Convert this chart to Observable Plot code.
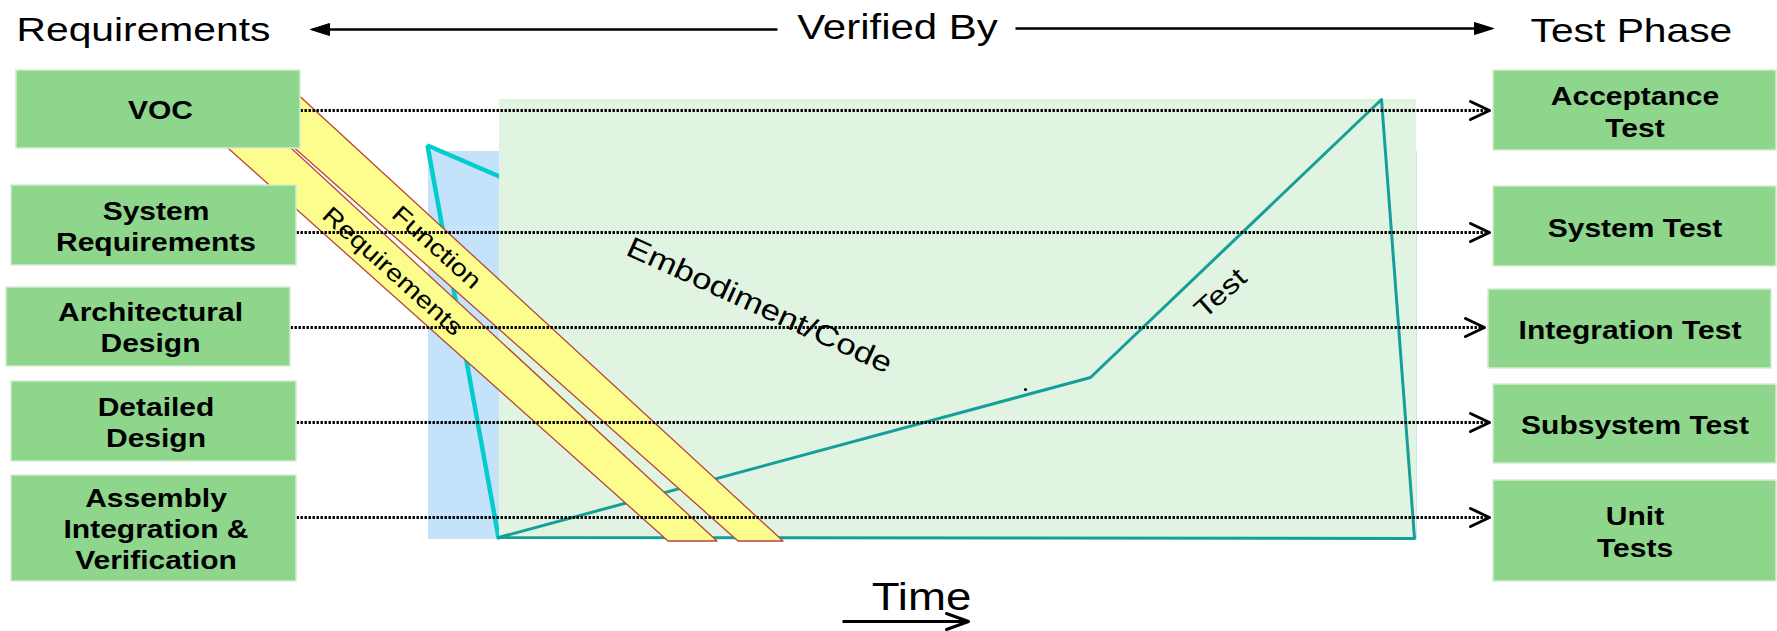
<!DOCTYPE html>
<html><head><meta charset="utf-8">
<script src="https://cdn.jsdelivr.net/npm/d3@7"></script>
<script src="https://cdn.jsdelivr.net/npm/@observablehq/plot@0.6"></script>
<style>html,body{margin:0;padding:0;background:#fff;overflow:hidden}</style>
</head><body><div id="chart"></div>
<script>
// ---- Requirements (left) boxes ----
const leftLabels = ["VOC", "System\nRequirements", "Architectural\nDesign", "Detailed\nDesign", "Assembly\nIntegration &\nVerification"];
const leftX1 = [16, 11, 6, 11, 11];
const leftX2 = [300, 296, 290, 296, 296];
const leftTop = [70, 185, 287, 381, 475];
const leftBottom = [148, 265, 366, 461, 581];
// ---- Test phase (right) boxes ----
const rightLabels = ["Acceptance\nTest", "System Test", "Integration Test", "Subsystem Test", "Unit\nTests"];
const rightX1 = [1493, 1493, 1488, 1493, 1493];
const rightX2 = [1776, 1776, 1771, 1776, 1776];
const rightTop = [70, 186, 289, 384, 480];
const rightBottom = [150, 266, 368, 463, 581];
// ---- dotted "verified by" links ----
const linkY = [110, 232, 327, 422, 517];
const linkTipX = [1489, 1489, 1484, 1489, 1489];
// ---- background regions ----
const blueRegion = {x1: 428, x2: 1417, y1: 151, y2: 539};
const greenRegion = {x1: 499, x2: 1416, y1: 99, y2: 538};
// ---- V outline (cyan, behind green) and teal (over green) ----
const cyanX = [499, 427, 498];
const cyanY = [176, 145, 537];
const tealX = [498, 1090, 1381, 1414, 498];
const tealY = [537, 377, 99, 538, 537];
// ---- yellow bands ----
const bandNames = ["Requirements", "Function"];
const bandTopY = [90, 90];
const bandBottomY = [541, 541];
const bandTopLeft = [163, 229];
const bandTopRight = [228, 293];
const bandBottomLeft = [668, 738];
const bandBottomRight = [717, 783];
// ---- annotations ----
const notes = [
  {text: "Function", x: 436, y: 247, angle: 42, size: 24},
  {text: "Requirements", x: 392, y: 271, angle: 42, size: 24},
  {text: "Embodiment/Code", x: 759, y: 305, angle: 24.5, size: 29},
  {text: "Test", x: 1220, y: 293, angle: -42, size: 27}
];
const strayDot = [{x: 1025, y: 389}];
// ---- header ----
const headerLeft = {t: "Requirements", x: 16, y: 30};
const headerMid = {t: "Verified By", x: 897, y: 27};
const headerRight = {t: "Test Phase", x: 1530, y: 31};
const headerLineX1 = [318, 1015];
const headerLineX2 = [777, 1478];
const headerLineY = [29, 28];
const headerHeadTip = [310, 1493];
const headerHeadBase = [329, 1474];
// ---- time axis ----
const timeLabel = "Time";
const timeX = [921], timeY = [597];
const timeArrowX = [842, 968], timeArrowY = 621;

const W = 1777, H = 631;
const leftBoxes = leftLabels.map((l, i) => ({label: l, x1: leftX1[i], x2: leftX2[i], y1: leftTop[i], y2: leftBottom[i], cx: (leftX1[i] + leftX2[i]) / 2 + 2, cy: (leftTop[i] + leftBottom[i]) / 2}));
const rightBoxes = rightLabels.map((l, i) => ({label: l, x1: rightX1[i], x2: rightX2[i], y1: rightTop[i], y2: rightBottom[i], cx: (rightX1[i] + rightX2[i]) / 2, cy: (rightTop[i] + rightBottom[i]) / 2}));
const links = linkY.map((y, i) => ({x1: leftX2[i], x2: linkTipX[i], y}));
const chevrons = linkY.flatMap((y, i) => [
  {id: i, x: linkTipX[i] - 19, y: y - 9}, {id: i, x: linkTipX[i], y}, {id: i, x: linkTipX[i] - 19, y: y + 9}
]);
const cyanPath = cyanX.map((x, i) => ({x, y: cyanY[i]}));
const tealPath = tealX.map((x, i) => ({x, y: tealY[i]}));
const bands = bandNames.flatMap((n, i) => [
  {band: n, y: bandTopY[i], x1: bandTopLeft[i], x2: bandTopRight[i]},
  {band: n, y: bandBottomY[i], x1: bandBottomLeft[i], x2: bandBottomRight[i]}
]);
const headerLines = headerLineX1.map((x1, i) => ({x1, x2: headerLineX2[i], y: headerLineY[i]}));
const headerHeads = headerHeadTip.flatMap((tip, i) => [
  {id: i, x: tip, y: headerLineY[i]}, {id: i, x: headerHeadBase[i], y: headerLineY[i] - 6}, {id: i, x: headerHeadBase[i], y: headerLineY[i] + 6}, {id: i, x: tip, y: headerLineY[i]}
]);
const timeHead = [{x: timeArrowX[1] - 22, y: timeArrowY - 8}, {x: timeArrowX[1], y: timeArrowY}, {x: timeArrowX[1] - 22, y: timeArrowY + 8}];

const font = "'Liberation Sans', Arial, Helvetica, sans-serif";
const chart = Plot.plot({
  width: W, height: H, margin: 0,
  x: {domain: [0, W], axis: null},
  y: {domain: [H, 0], axis: null},
  style: {fontFamily: font, background: "#fff", overflow: "visible"},
  marks: [
    Plot.rect([blueRegion], {x1: "x1", x2: "x2", y1: "y1", y2: "y2", fill: "#c5e2fb"}),
    Plot.line(cyanPath, {x: "x", y: "y", stroke: "#00cdcc", strokeWidth: 4.5, strokeLinejoin: "miter"}),
    Plot.rect([greenRegion], {x1: "x1", x2: "x2", y1: "y1", y2: "y2", fill: "#e1f4e1"}),
    Plot.line(tealPath, {x: "x", y: "y", stroke: "#169e9a", strokeWidth: 3}),
    Plot.areaX(bands, {y: "y", x1: "x1", x2: "x2", z: "band", fill: "#fdfd8d", stroke: "#b8453a", strokeWidth: 1.3}),
    Plot.text(notes, {x: "x", y: "y", text: "text", rotate: "angle", fontSize: (d) => d.size, lineAnchor: "middle", fill: "black"}),
    Plot.dot(strayDot, {x: "x", y: "y", r: 1.6, fill: "black"}),
    Plot.link(links, {x1: "x1", x2: "x2", y1: "y", y2: "y", stroke: "black", strokeWidth: 2.9, strokeDasharray: "2.4,1.6"}),
    Plot.line(chevrons, {x: "x", y: "y", z: "id", stroke: "black", strokeWidth: 3}),
    Plot.rect(leftBoxes, {x1: "x1", x2: "x2", y1: "y1", y2: "y2", fill: "#8ed68c", stroke: "#d6ebd4", strokeWidth: 1.5}),
    Plot.rect(rightBoxes, {x1: "x1", x2: "x2", y1: "y1", y2: "y2", fill: "#8ed68c", stroke: "#d6ebd4", strokeWidth: 1.5}),
    Plot.text(leftBoxes, {x: "cx", y: "cy", text: "label", fontWeight: "bold", fontSize: 25, lineHeight: 1.24, lineAnchor: "middle", fill: "black"}),
    Plot.text(rightBoxes, {x: "cx", y: "cy", text: "label", fontWeight: "bold", fontSize: 25, lineHeight: 1.28, lineAnchor: "middle", fill: "black"}),
    Plot.text([headerLeft, headerRight], {x: "x", y: "y", text: "t", textAnchor: "start", fontSize: 34, lineAnchor: "middle", fill: "black"}),
    Plot.text([headerMid], {x: "x", y: "y", text: "t", textAnchor: "middle", fontSize: 35, lineAnchor: "middle", fill: "black"}),
    Plot.link(headerLines, {x1: "x1", x2: "x2", y1: "y", y2: "y", stroke: "black", strokeWidth: 2.5}),
    Plot.line(headerHeads, {x: "x", y: "y", z: "id", fill: "black", stroke: "black", strokeWidth: 1}),
    Plot.text([{t: timeLabel, x: timeX[0], y: timeY[0]}], {x: "x", y: "y", text: "t", fontSize: 38, lineAnchor: "middle", fill: "black"}),
    Plot.link([{x1: timeArrowX[0], x2: timeArrowX[1], y: timeArrowY}], {x1: "x1", x2: "x2", y1: "y", y2: "y", stroke: "black", strokeWidth: 3}),
    Plot.line(timeHead, {x: "x", y: "y", stroke: "black", strokeWidth: 3})
  ]
});
// horizontal stretch of lettering, as in the reference
chart.querySelectorAll("text").forEach((t) => {
  const tr = t.getAttribute("transform");
  if (tr) t.setAttribute("transform", tr + " scale(1.2,1)");
  else {
    const x = +t.getAttribute("x") || 0, y = +t.getAttribute("y") || 0;
    t.setAttribute("transform", `translate(${x},${y}) scale(1.2,1) translate(${-x},${-y})`);
  }
});
document.getElementById("chart").appendChild(chart);
</script>
</body></html>
